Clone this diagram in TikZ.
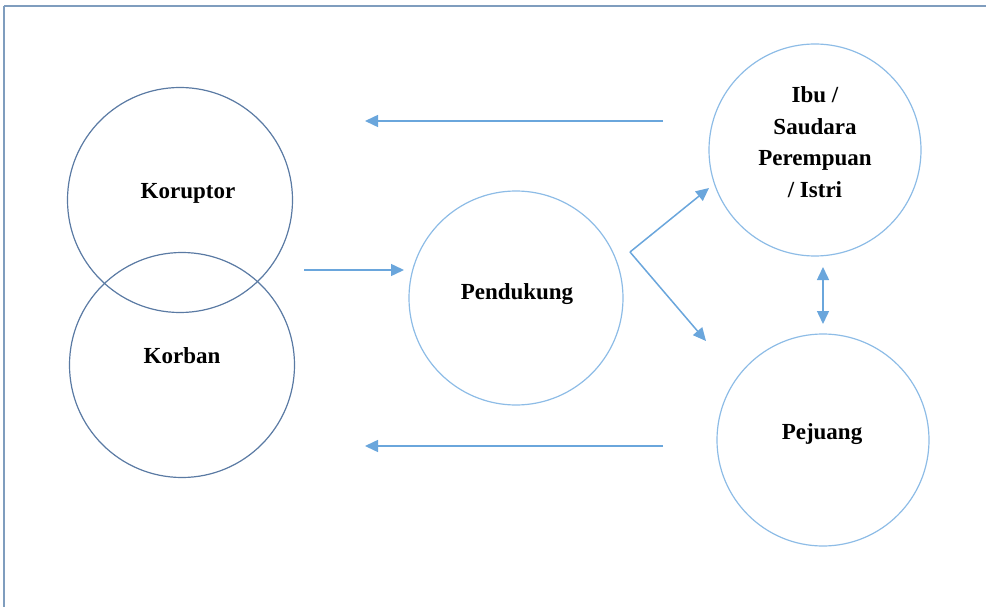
\documentclass[tikz,border=0pt]{standalone}
\usepackage{fontspec}
\setmainfont{Liberation Serif}
\usetikzlibrary{arrows.meta}
\definecolor{frameblue}{HTML}{7F9DBE}
\definecolor{darkring}{HTML}{5A7AA3}
\definecolor{lightring}{HTML}{8DBCE6}
\definecolor{arrowblue}{HTML}{6AA6DC}
\tikzset{
  ringdark/.style={circle, draw=darkring, line width=1.2pt, inner sep=0pt},
  ringlight/.style={circle, draw=lightring, line width=1.2pt, inner sep=0pt},
  lbl/.style={font=\fontsize{23}{31.5}\selectfont\bfseries, align=center},
  conn/.style={draw=arrowblue, line width=1.5pt, -{Triangle[length=13pt,width=12pt]}},
  dconn/.style={draw=arrowblue, line width=1.5pt, {Triangle[length=13pt,width=12pt]}-{Triangle[length=13pt,width=12pt]}}
}
\begin{document}
\begin{tikzpicture}[x=1pt,y=-1pt]
\useasboundingbox (0,0) rectangle (986,607);
\draw[frameblue, line width=2pt] (4,6) -- (992,6);
\draw[frameblue, line width=2pt] (4,6) -- (4,612);
\node[ringdark, minimum size=225pt] (kor) at (180,200) {};
\node[ringdark, minimum size=225pt] (kob) at (182,365) {};
\node[ringlight, minimum size=214pt] (pen) at (516,298) {};
\node[ringlight, minimum size=212pt] (ibu) at (815,150) {};
\node[ringlight, minimum size=212pt] (pej) at (823,440) {};
\node[lbl] (tkor) at (188,193) {Koruptor};
\node[lbl] (tkob) at (182,356) {Korban};
\node[lbl] (tpen) at (517,294) {Pendukung};
\node[lbl] (tibu) at (815,142) {Ibu /\\Saudara\\Perempuan\\/ Istri};
\node[lbl] (tpej) at (822,434) {Pejuang};
\coordinate (a1s) at (663,121);
\coordinate (a1e) at (365,121);
\coordinate (a2s) at (663,446);
\coordinate (a2e) at (365,446);
\coordinate (a3s) at (304,270);
\coordinate (a3e) at (404,270);
\coordinate (fork) at (630,252);
\coordinate (f1) at (709,188);
\coordinate (f2) at (706,341);
\coordinate (d1) at (823,267);
\coordinate (d2) at (823,324);
\draw[conn] (a1s) -- (a1e);
\draw[conn] (a2s) -- (a2e);
\draw[conn] (a3s) -- (a3e);
\draw[conn] (fork) -- (f1);
\draw[conn] (fork) -- (f2);
\draw[dconn] (d1) -- (d2);
\end{tikzpicture}
\end{document}
